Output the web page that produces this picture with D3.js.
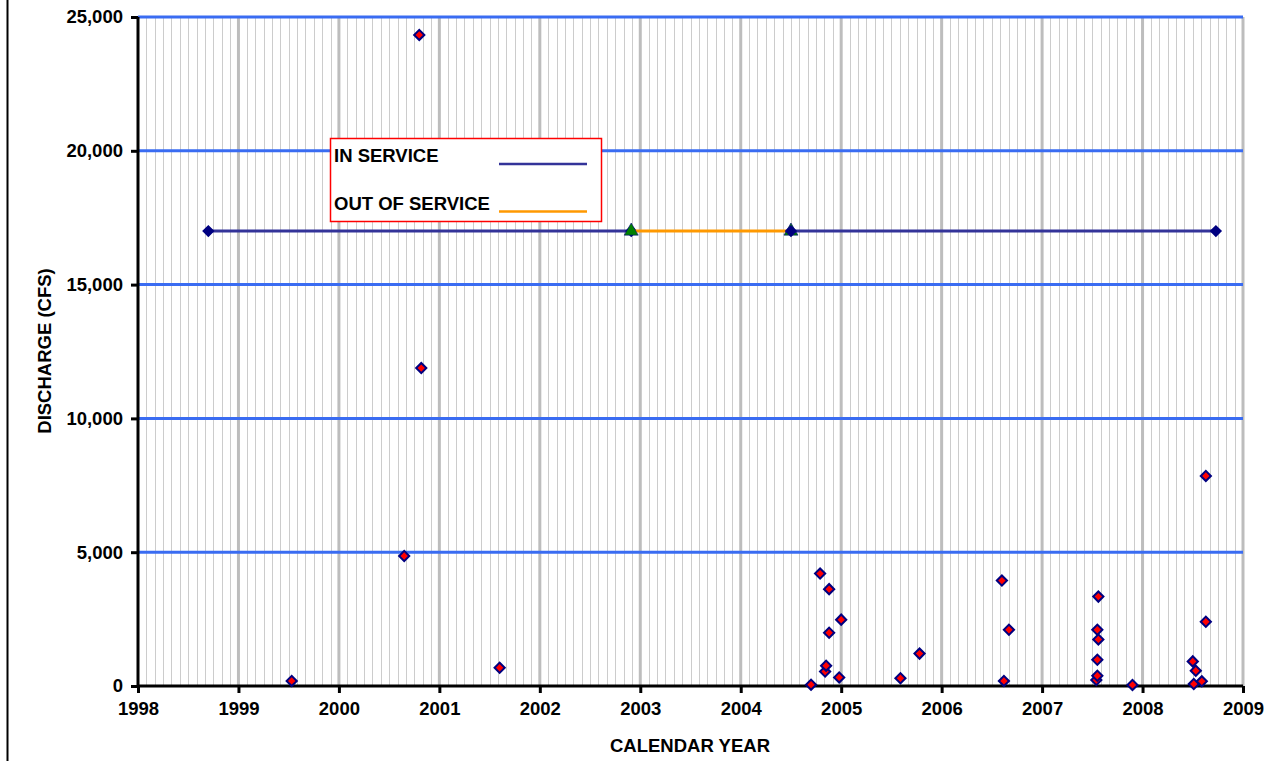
<!DOCTYPE html>
<html>
<head>
<meta charset="utf-8">
<script src="https://cdn.jsdelivr.net/npm/d3@7"></script>
<style>
  body { margin: 0; background: #fff; }
  text { font-family: "Liberation Sans", Arial, sans-serif; font-weight: bold; fill: #000; }
</style>
</head>
<body>
<div id="chart"></div>
<script>
// discharge samples (decimal year, cfs)
var sampleYears = [1999.53, 2000.65, 2000.80, 2000.82, 2001.60,
  2004.70, 2004.79, 2004.84, 2004.85, 2004.88, 2004.88, 2004.98, 2005.00, 2005.59, 2005.78,
  2006.60, 2006.62, 2006.67,
  2007.54, 2007.55, 2007.55, 2007.55, 2007.56, 2007.56, 2007.90,
  2008.50, 2008.51, 2008.53, 2008.59, 2008.63, 2008.63];
var sampleCfs = [190, 4860, 24330, 11880, 680,
  50, 4200, 540, 760, 3620, 1990, 320, 2480, 290, 1210,
  3940, 190, 2100,
  225, 385, 980, 2100, 1740, 3340, 40,
  920, 75, 570, 175, 2400, 7850];

// gauge service periods
var serviceLevel = 17000;
var inService1 = [1998.70, 2002.91];
var outService = [2002.91, 2004.50];
var inService2 = [2004.50, 2008.73];

var yearTicks = d3.range(1998, 2010);
var cfsTicks = [0, 5000, 10000, 15000, 20000, 25000];

var W = 1275, H = 761;
var FS = "18.5px";
var svg = d3.select("#chart").append("svg").attr("width", W).attr("height", H);

var x = d3.scaleLinear().domain([1998, 2009]).range([138, 1243]);
var y = d3.scaleLinear().domain([0, 25000]).range([686, 17]);

// outer left border
svg.append("line").attr("x1", 7.5).attr("x2", 7.5).attr("y1", 0).attr("y2", H)
  .attr("stroke", "#000").attr("stroke-width", 2);

// monthly gridlines
var months = d3.range(0, 11 * 12 + 1).map(function(m) { return 1998 + m / 12; });
svg.append("g").selectAll("line").data(months.filter(function(d, i) { return i % 12 != 0; }))
  .enter().append("line")
  .attr("x1", function(d) { return Math.round(x(d)) + 0.5; })
  .attr("x2", function(d) { return Math.round(x(d)) + 0.5; })
  .attr("y1", y(25000)).attr("y2", y(0))
  .attr("stroke", "#cccccc").attr("stroke-width", 1);

// yearly gridlines
svg.append("g").selectAll("line").data(yearTicks.slice(1))
  .enter().append("line")
  .attr("x1", function(d) { return x(d); }).attr("x2", function(d) { return x(d); })
  .attr("y1", y(25000)).attr("y2", y(0))
  .attr("stroke", "#bdbdbd").attr("stroke-width", 3);

// horizontal gridlines
svg.append("g").selectAll("line").data(cfsTicks.slice(1))
  .enter().append("line")
  .attr("x1", x(1998)).attr("x2", x(2009))
  .attr("y1", function(d) { return y(d); }).attr("y2", function(d) { return y(d); })
  .attr("stroke", "#3a6cf2").attr("stroke-width", 3);

// axes
var yAxis = svg.append("g").attr("transform", "translate(" + x(1998) + ",0)")
  .call(d3.axisLeft(y).tickValues(cfsTicks).tickFormat(d3.format(",")).tickSize(7).tickPadding(8));
var xAxis = svg.append("g").attr("transform", "translate(0," + y(0) + ")")
  .call(d3.axisBottom(x).tickValues(yearTicks).tickFormat(d3.format("d")).tickSize(7).tickPadding(9));
[xAxis, yAxis].forEach(function(g) {
  g.select(".domain").attr("stroke", "#000").attr("stroke-width", 3);
  g.selectAll(".tick line").attr("stroke", "#000").attr("stroke-width", 3);
  g.selectAll("text").style("font-size", FS).style("font-family", "Liberation Sans, Arial, sans-serif")
    .style("font-weight", "bold").attr("fill", "#000");
});
xAxis.select(".domain").attr("d", "M" + x(1998) + ",0H" + x(2009));
yAxis.select(".domain").attr("d", "M0," + y(0) + "V" + y(25000));

// axis titles
svg.append("text").attr("x", 690).attr("y", 752).attr("text-anchor", "middle")
  .style("font-size", FS).text("CALENDAR YEAR");
svg.append("text").attr("transform", "translate(51,351) rotate(-90)").attr("text-anchor", "middle")
  .style("font-size", FS).text("DISCHARGE (CFS)");

// service lines
var diamond = d3.symbol().type(d3.symbolSquare).size(52);
function serviceSeg(yrs, color, marker) {
  svg.append("line")
    .attr("x1", x(yrs[0])).attr("x2", x(yrs[1]))
    .attr("y1", y(serviceLevel)).attr("y2", y(serviceLevel))
    .attr("stroke", color).attr("stroke-width", 3);
  svg.append("g").selectAll("path").data(yrs).enter().append("path")
    .attr("d", marker == "tri" ? d3.symbol().type(d3.symbolTriangle).size(85)() : diamond())
    .attr("transform", function(d) {
      return "translate(" + x(d) + "," + y(serviceLevel) + ")" + (marker == "tri" ? "" : " rotate(45)");
    })
    .attr("fill", marker == "tri" ? "#008000" : "#000080")
    .attr("stroke", "#000080").attr("stroke-width", marker == "tri" ? 0.6 : 1.5);
}
serviceSeg(inService1, "#333399", "dia");
serviceSeg(outService, "#ff9900", "tri");
serviceSeg(inService2, "#333399", "dia");

// discharge points
svg.append("g").selectAll("path").data(sampleYears).enter().append("path")
  .attr("d", diamond())
  .attr("transform", function(d, i) {
    return "translate(" + x(d) + "," + y(sampleCfs[i]) + ") rotate(45)";
  })
  .attr("fill", "#ff0000").attr("stroke", "#000080").attr("stroke-width", 2);

// legend
var lg = svg.append("g");
lg.append("rect").attr("x", 330.5).attr("y", 138.5).attr("width", 271).attr("height", 83)
  .attr("fill", "#fff").attr("stroke", "#ff0000").attr("stroke-width", 1.5);
lg.append("text").attr("x", 334).attr("y", 162).style("font-size", FS).text("IN SERVICE");
lg.append("text").attr("x", 334).attr("y", 210).style("font-size", FS).text("OUT OF SERVICE");
lg.append("line").attr("x1", 499).attr("x2", 587).attr("y1", 164).attr("y2", 164)
  .attr("stroke", "#333399").attr("stroke-width", 2.5);
lg.append("line").attr("x1", 499).attr("x2", 587).attr("y1", 211.5).attr("y2", 211.5)
  .attr("stroke", "#ff9900").attr("stroke-width", 2.5);
</script>
</body>
</html>
